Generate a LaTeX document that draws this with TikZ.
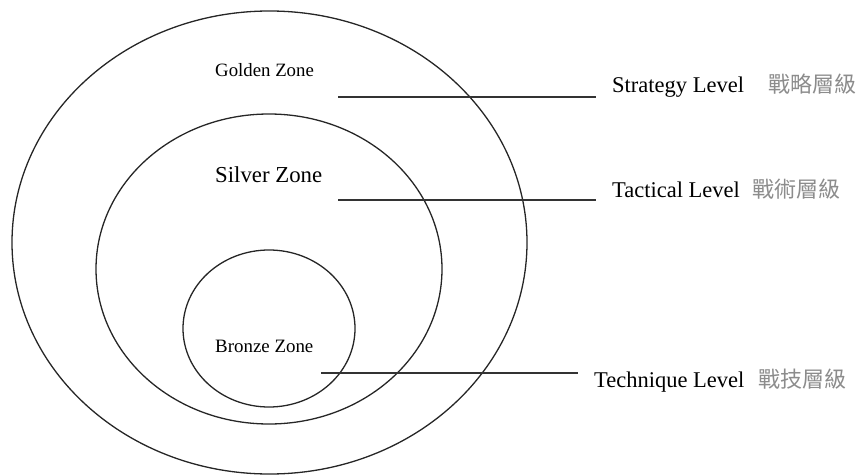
\documentclass[tikz,border=0pt]{standalone}
\usepackage{fontspec}
\setmainfont{Liberation Serif}
\newfontfamily\cjk{Noto Sans CJK TC}
\begin{document}
\begin{tikzpicture}[x=1pt,y=-1pt,
  zone/.style={draw=black!85,line width=1.3pt},
  leader/.style={draw=black!80,line width=1.2pt},
  zonelbl/.style={anchor=base west,inner sep=0pt},
  lvl/.style={anchor=base west,inner sep=0pt,font=\fontsize{22.5}{26}\selectfont},
  lvlcjk/.style={anchor=base west,inner sep=0pt,text=black!45,font=\cjk\fontsize{22}{26}\selectfont}]
\useasboundingbox (0,0) rectangle (859,476);
% zones
\draw[zone] (269.5,242.5) ellipse [x radius=257.5, y radius=231.5];
\draw[zone] (269,269) ellipse [x radius=173, y radius=155];
\draw[zone] (269,328.5) ellipse [x radius=86, y radius=78.5];
% zone labels
\node[zonelbl,font=\fontsize{18.8}{22}\selectfont] (gold) at (215,77) {Golden Zone};
\node[zonelbl,font=\fontsize{22.8}{26}\selectfont] (silver) at (215,182) {Silver Zone};
\node[zonelbl,font=\fontsize{18.9}{22}\selectfont] (bronze) at (215,352) {Bronze Zone};
% leader lines
\coordinate (sA) at (338,97);  \coordinate (sB) at (596,97);
\coordinate (tA) at (338,200); \coordinate (tB) at (596,200);
\coordinate (qA) at (321,373); \coordinate (qB) at (578,373);
\draw[leader] (sA) -- (sB);
\draw[leader] (tA) -- (tB);
\draw[leader] (qA) -- (qB);
% level labels
\node[lvl] (strat) at (612,93) {Strategy Level};
\node[lvlcjk] (stratc) at (768,93) {戰略層級};
\node[lvl] (tact) at (612,197) {Tactical Level};
\node[lvlcjk] (tactc) at (752,197) {戰術層級};
\node[lvl] (tech) at (594,387) {Technique Level};
\node[lvlcjk] (techc) at (758,387) {戰技層級};
\end{tikzpicture}
\end{document}
